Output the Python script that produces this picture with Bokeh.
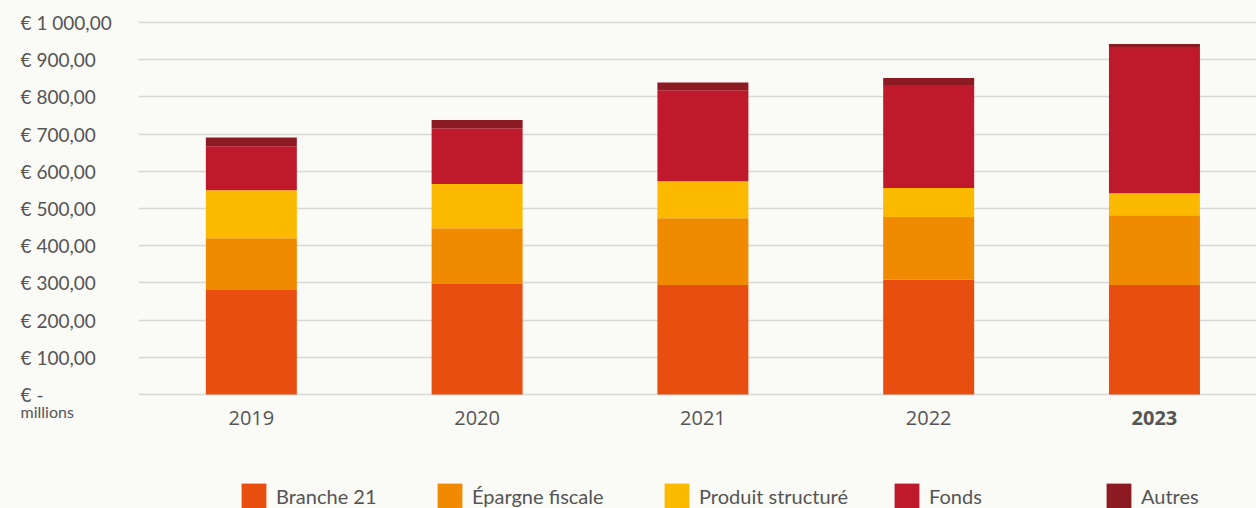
from bokeh.plotting import figure
from bokeh.models import (ColumnDataSource, Legend, LegendItem, FixedTicker,
                          Label, Range1d, LinearAxis)
from bokeh.core.properties import value
from bokeh.embed import file_html
from bokeh.resources import INLINE

# ---- data (EUR millions) ----
years = ["2019", "2020", "2021", "2022", "2023"]
series = ["Branche 21", "Épargne fiscale", "Produit structuré", "Fonds", "Autres"]
branche21 = [283, 297, 294, 309, 294]
epargne_fiscale = [137, 150, 180, 168, 188]
produit_structure = [129, 119, 99, 78, 59]
fonds = [118, 150, 245, 277, 393]
autres = [24, 22, 21, 19, 8]
y_ticks = [0, 100, 200, 300, 400, 500, 600, 700, 800, 900, 1000]
y_tick_labels = ["€ -", "€ 100,00", "€ 200,00", "€ 300,00", "€ 400,00",
                 "€ 500,00", "€ 600,00", "€ 700,00", "€ 800,00", "€ 900,00",
                 "€ 1 000,00"]
unit_label = "millions"

colors = ["#E84E0F", "#F08A00", "#FBBA00", "#BE1A2B", "#8C1A22"]
BG = "#FAFAF6"
TXT = "#555555"

W, H = 1256, 508
X_START, X_END = -1.111, 4.452
Y_START, Y_END = -306.5, 1059.1
PX_PER_X = W / (X_END - X_START)
LABEL_X = X_START + 20 / PX_PER_X      # left edge of the value labels

xs = list(range(len(years)))
year_labels = {i: y for i, y in zip(xs, years)}
keys = ["b21", "epf", "ps", "fonds", "autres"]
source = ColumnDataSource(dict(x=xs, b21=branche21, epf=epargne_fiscale,
                               ps=produit_structure, fonds=fonds, autres=autres))

p = figure(width=W, height=H, output_backend="svg", toolbar_location=None,
           x_range=Range1d(X_START, X_END), y_range=Range1d(Y_START, Y_END),
           y_axis_location=None,
           min_border_left=0, min_border_right=0, min_border_top=0,
           min_border_bottom=0)
p.background_fill_color = BG
p.border_fill_color = BG
p.outline_line_color = None

# horizontal grid at the value ticks, starting at the bar area's left edge
p.ygrid.ticker = FixedTicker(ticks=y_ticks)
p.ygrid.grid_line_color = "#D8D8D8"
p.ygrid.grid_line_width = 1.5
p.ygrid.cross_bounds = (-0.5, X_END)

renderers = p.vbar_stack(keys, x="x", width=0.403, color=colors, line_color=None,
                         source=source)


def style_year_axis(ax, ticks, font_style):
    ax.fixed_location = 0
    ax.ticker = FixedTicker(ticks=ticks)
    ax.major_label_overrides = {t: year_labels[t] for t in ticks}
    ax.axis_line_color = None
    ax.major_tick_line_color = None
    ax.minor_tick_line_color = None
    ax.major_label_text_font = "Open Sans"
    ax.major_label_text_font_size = "20px"
    ax.major_label_text_font_style = font_style
    ax.major_label_text_color = TXT
    ax.major_label_standoff = 11


# x axis (drawn at y = 0 inside the frame); the latest year in bold
style_year_axis(p.xaxis[0], xs[:-1], "normal")
latest_axis = LinearAxis()
style_year_axis(latest_axis, xs[-1:], "bold")
p.add_layout(latest_axis, "below")
p.xgrid.grid_line_color = None

# value labels, left aligned, placed at the tick values through the y scale
tick_src = ColumnDataSource(dict(y=y_ticks, label=y_tick_labels,
                                 x=[LABEL_X] * len(y_ticks)))
p.text(x="x", y="y", text="label", source=tick_src, text_align="left",
       text_baseline="middle", text_font=value("Lato"), text_font_size="19px",
       text_color=TXT)

p.add_layout(Label(x=20, y=97, x_units="screen", y_units="screen",
                   text=unit_label, text_font="Lato", text_font_size="16px",
                   text_color=TXT, text_align="left", text_baseline="middle"))

legend_x = [238, 434, 661, 891, 1103]
for name, r, lx in zip(series, renderers, legend_x):
    leg = Legend(items=[LegendItem(label=name, renderers=[r])],
                 location=(lx, -3), orientation="horizontal",
                 glyph_width=31, glyph_height=31, label_standoff=7,
                 padding=0, margin=0, border_line_color=None,
                 background_fill_alpha=0, label_text_font="Lato",
                 label_text_font_size="20px", label_text_color=TXT)
    p.add_layout(leg, "center")

open("out.html", "w").write(file_html(p, INLINE))
